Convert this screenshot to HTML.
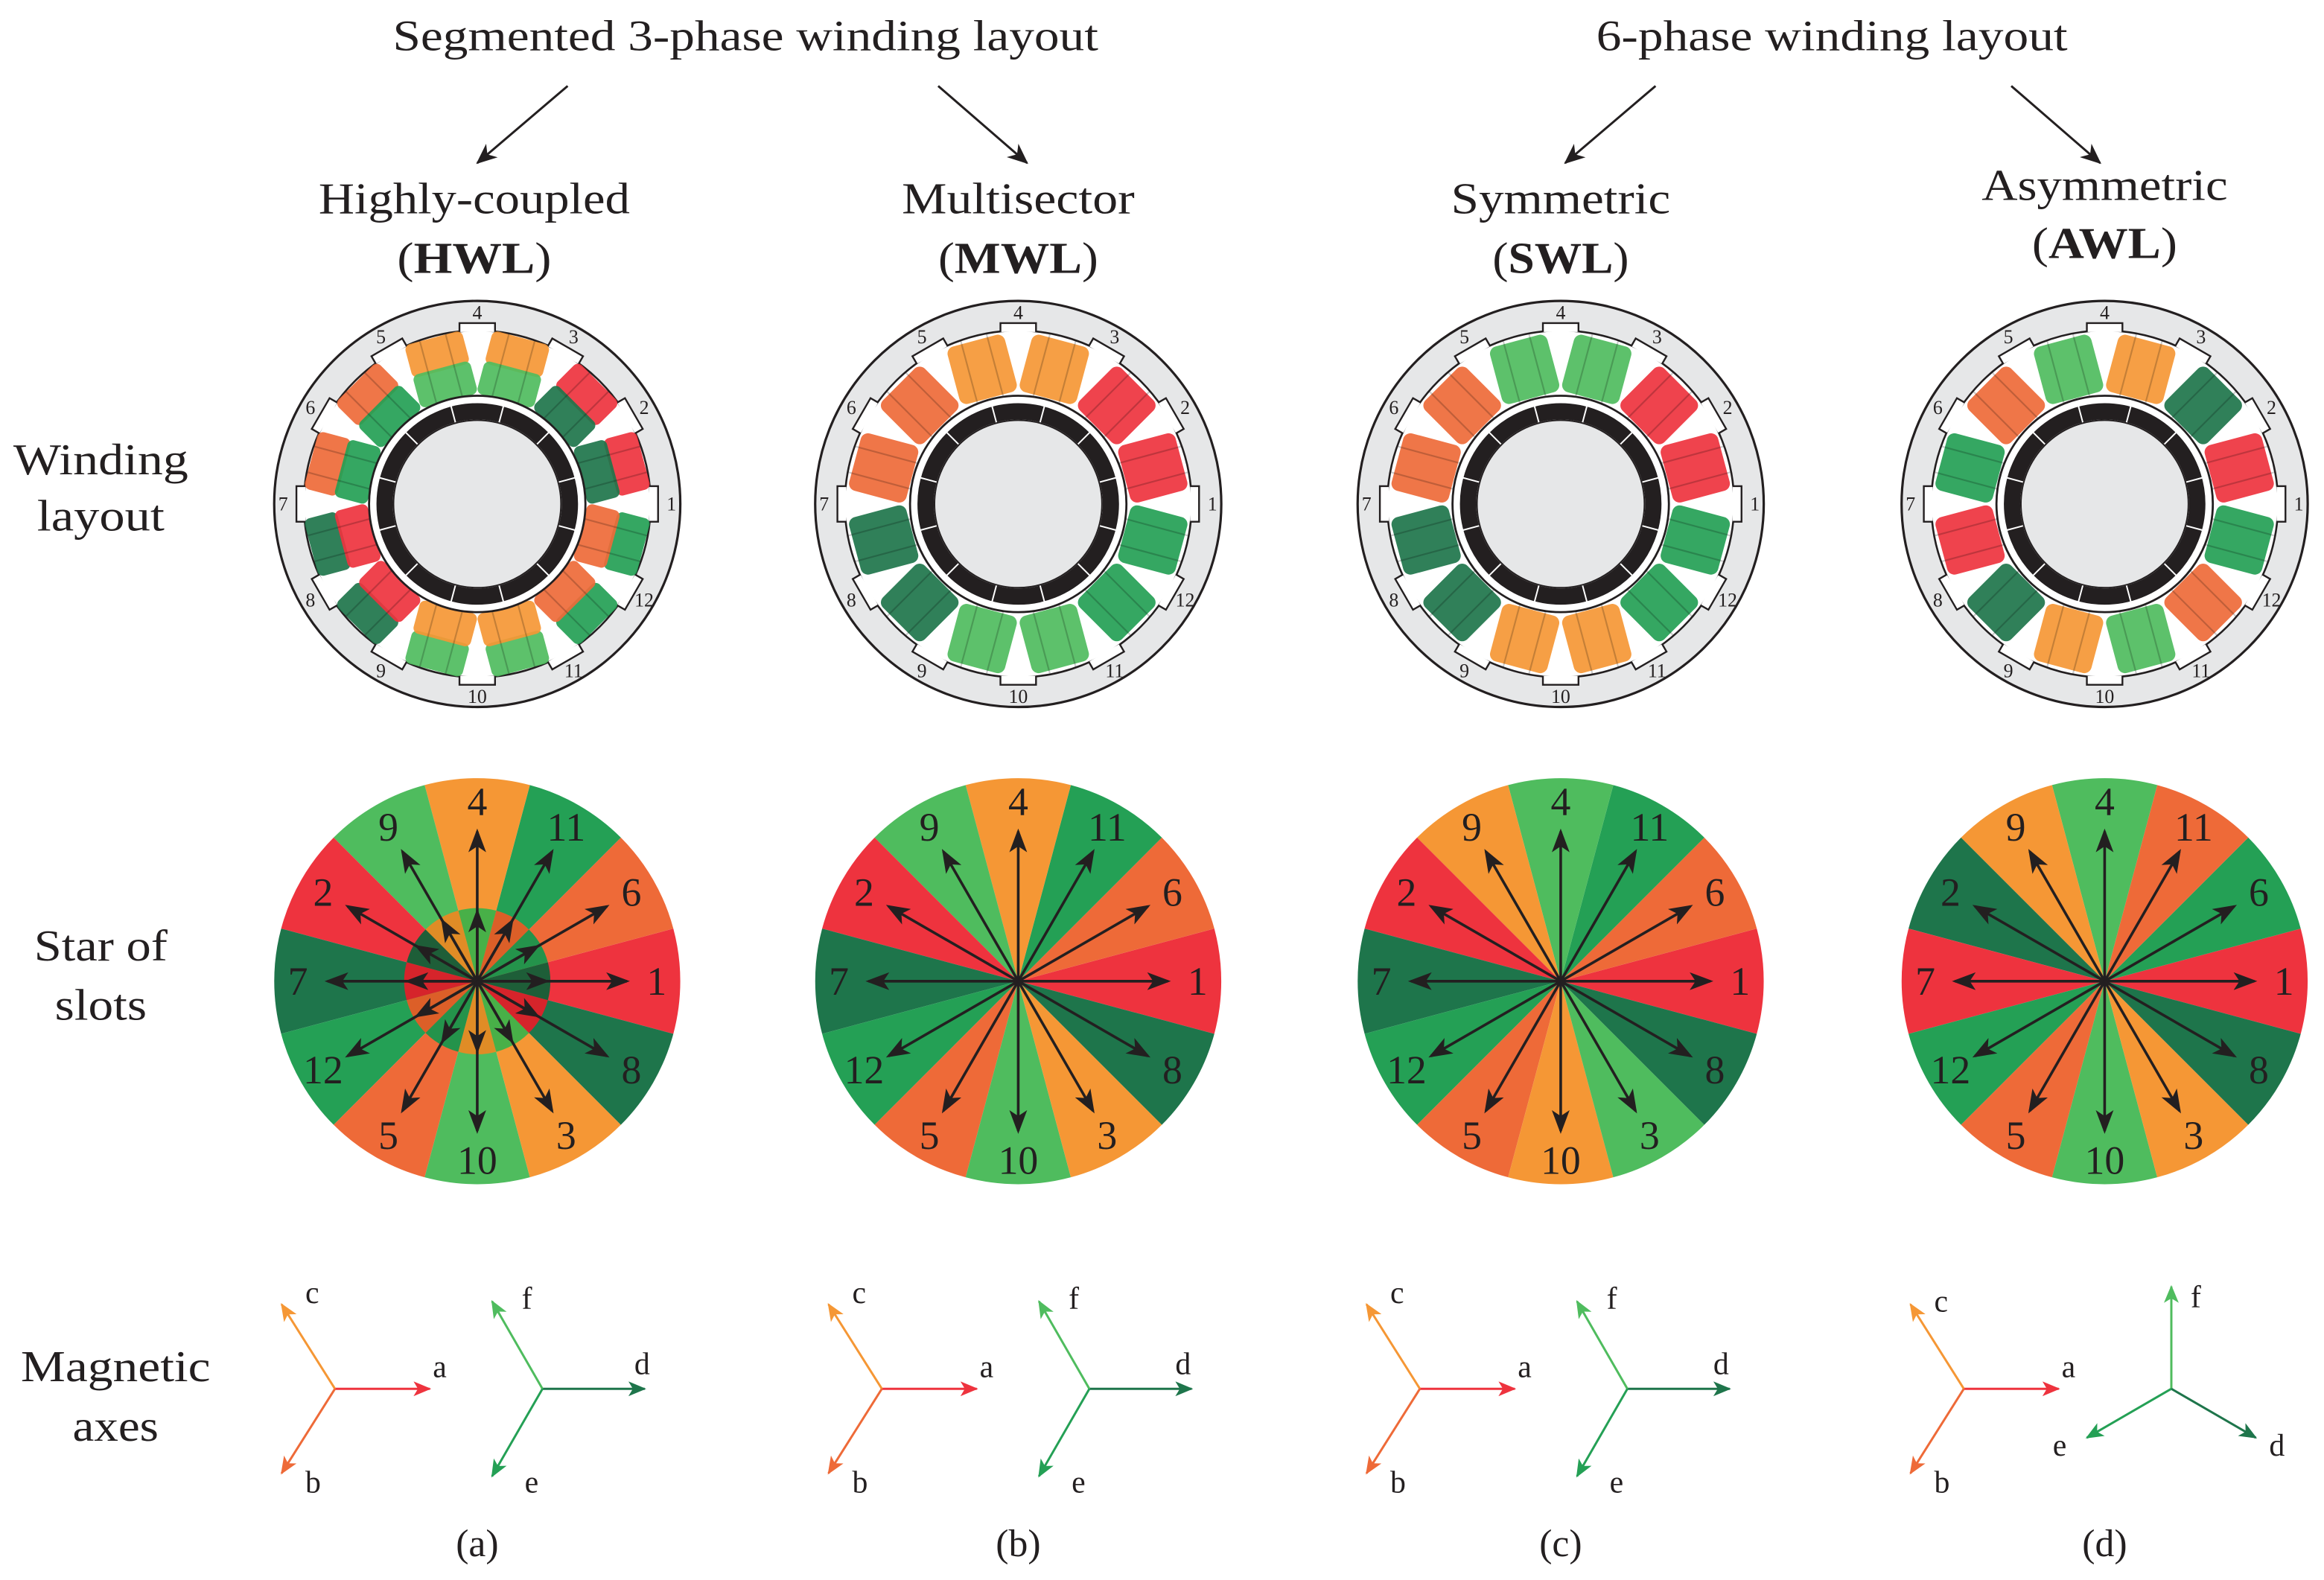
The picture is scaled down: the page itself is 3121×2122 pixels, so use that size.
<!DOCTYPE html>
<html><head><meta charset="utf-8"><style>
html,body{margin:0;padding:0;background:#fff}
svg{display:block}
text{font-family:"Liberation Serif",serif;fill:#231f20}
</style></head><body>
<svg width="3121" height="2122" viewBox="0 0 1568 1066" preserveAspectRatio="none" xmlns="http://www.w3.org/2000/svg">
<defs>
<marker id="mk" markerUnits="userSpaceOnUse" markerWidth="16" markerHeight="12" refX="14" refY="6" orient="auto"><path d="M0,0 L16,6 L0,12 L4,6 Z" fill="#231f20"/></marker>
<marker id="mr" markerUnits="userSpaceOnUse" markerWidth="12" markerHeight="10" refX="11" refY="5" orient="auto"><path d="M0,0 L12,5 L0,10 L3,5 Z" fill="#ee333e"/></marker>
<marker id="mo" markerUnits="userSpaceOnUse" markerWidth="12" markerHeight="10" refX="11" refY="5" orient="auto"><path d="M0,0 L12,5 L0,10 L3,5 Z" fill="#f59735"/></marker>
<marker id="mor" markerUnits="userSpaceOnUse" markerWidth="12" markerHeight="10" refX="11" refY="5" orient="auto"><path d="M0,0 L12,5 L0,10 L3,5 Z" fill="#ee6a38"/></marker>
<marker id="mlg" markerUnits="userSpaceOnUse" markerWidth="12" markerHeight="10" refX="11" refY="5" orient="auto"><path d="M0,0 L12,5 L0,10 L3,5 Z" fill="#4fbc5e"/></marker>
<marker id="mg" markerUnits="userSpaceOnUse" markerWidth="12" markerHeight="10" refX="11" refY="5" orient="auto"><path d="M0,0 L12,5 L0,10 L3,5 Z" fill="#24a055"/></marker>
<marker id="mdg" markerUnits="userSpaceOnUse" markerWidth="12" markerHeight="10" refX="11" refY="5" orient="auto"><path d="M0,0 L12,5 L0,10 L3,5 Z" fill="#1e754b"/></marker>
<marker id="mh" markerUnits="userSpaceOnUse" markerWidth="14" markerHeight="14" refX="13" refY="7" orient="auto"><path d="M0,1 L14,7 L0,13 L4,7 Z" fill="#231f20"/></marker>

<path id="s0" d="M0,0 L132.3,35.5 A137,137 0 0 0 132.3,-35.5 Z"/>
<path id="s1" d="M0,0 L132.3,-35.5 A137,137 0 0 0 96.9,-96.9 Z"/>
<path id="s2" d="M0,0 L96.9,-96.9 A137,137 0 0 0 35.5,-132.3 Z"/>
<path id="s3" d="M0,0 L35.5,-132.3 A137,137 0 0 0 -35.5,-132.3 Z"/>
<path id="s4" d="M0,0 L-35.5,-132.3 A137,137 0 0 0 -96.9,-96.9 Z"/>
<path id="s5" d="M0,0 L-96.9,-96.9 A137,137 0 0 0 -132.3,-35.5 Z"/>
<path id="s6" d="M0,0 L-132.3,-35.5 A137,137 0 0 0 -132.3,35.5 Z"/>
<path id="s7" d="M0,0 L-132.3,35.5 A137,137 0 0 0 -96.9,96.9 Z"/>
<path id="s8" d="M0,0 L-96.9,96.9 A137,137 0 0 0 -35.5,132.3 Z"/>
<path id="s9" d="M0,0 L-35.5,132.3 A137,137 0 0 0 35.5,132.3 Z"/>
<path id="s10" d="M0,0 L35.5,132.3 A137,137 0 0 0 96.9,96.9 Z"/>
<path id="s11" d="M0,0 L96.9,96.9 A137,137 0 0 0 132.3,35.5 Z"/>

<g id="arr" stroke="#231f20" stroke-width="1.8" marker-end="url(#mk)">
<line x1="0" y1="0" x2="101" y2="0"/>
<line x1="0" y1="0" x2="87.5" y2="-50.5"/>
<line x1="0" y1="0" x2="50.5" y2="-87.5"/>
<line x1="0" y1="0" x2="0" y2="-101"/>
<line x1="0" y1="0" x2="-50.5" y2="-87.5"/>
<line x1="0" y1="0" x2="-87.5" y2="-50.5"/>
<line x1="0" y1="0" x2="-101" y2="0"/>
<line x1="0" y1="0" x2="-87.5" y2="50.5"/>
<line x1="0" y1="0" x2="-50.5" y2="87.5"/>
<line x1="0" y1="0" x2="0" y2="101"/>
<line x1="0" y1="0" x2="50.5" y2="87.5"/>
<line x1="0" y1="0" x2="87.5" y2="50.5"/>
</g>
<g id="arrin" stroke="#231f20" stroke-width="1.8" marker-end="url(#mk)">
<line x1="0" y1="0" x2="47" y2="0"/>
<line x1="0" y1="0" x2="40.7" y2="-23.5"/>
<line x1="0" y1="0" x2="23.5" y2="-40.7"/>
<line x1="0" y1="0" x2="0" y2="-47"/>
<line x1="0" y1="0" x2="-23.5" y2="-40.7"/>
<line x1="0" y1="0" x2="-40.7" y2="-23.5"/>
<line x1="0" y1="0" x2="-47" y2="0"/>
<line x1="0" y1="0" x2="-40.7" y2="23.5"/>
<line x1="0" y1="0" x2="-23.5" y2="40.7"/>
<line x1="0" y1="0" x2="0" y2="47"/>
<line x1="0" y1="0" x2="23.5" y2="40.7"/>
<line x1="0" y1="0" x2="40.7" y2="23.5"/>
</g>

<rect id="cf" x="74" y="-20" width="40" height="40" rx="5" opacity="0.92"/>
<rect id="co" x="93" y="-20" width="23" height="40" rx="4" opacity="0.92"/>
<rect id="ci" x="72" y="-20" width="23" height="40" rx="4" opacity="0.92"/>

<g id="stbase">
<circle r="137" fill="#e6e7e8" stroke="#231f20" stroke-width="1.6"/>
<circle r="117" fill="#fff" stroke="#231f20" stroke-width="1.3"/>
<g fill="#fff" stroke="#231f20" stroke-width="1.2">
<path d="M116,-12 L122,-12 L122,12 L116,12" transform="rotate(0)"/>
<path d="M116,-12 L122,-12 L122,12 L116,12" transform="rotate(-30)"/>
<path d="M116,-12 L122,-12 L122,12 L116,12" transform="rotate(-60)"/>
<path d="M116,-12 L122,-12 L122,12 L116,12" transform="rotate(-90)"/>
<path d="M116,-12 L122,-12 L122,12 L116,12" transform="rotate(-120)"/>
<path d="M116,-12 L122,-12 L122,12 L116,12" transform="rotate(-150)"/>
<path d="M116,-12 L122,-12 L122,12 L116,12" transform="rotate(180)"/>
<path d="M116,-12 L122,-12 L122,12 L116,12" transform="rotate(150)"/>
<path d="M116,-12 L122,-12 L122,12 L116,12" transform="rotate(120)"/>
<path d="M116,-12 L122,-12 L122,12 L116,12" transform="rotate(90)"/>
<path d="M116,-12 L122,-12 L122,12 L116,12" transform="rotate(60)"/>
<path d="M116,-12 L122,-12 L122,12 L116,12" transform="rotate(30)"/>
</g>
</g>
<g id="sttop">
<g stroke="rgba(0,0,0,0.2)" stroke-width="1.1">
<g transform="rotate(-15)"><line x1="72" y1="-9" x2="116" y2="-9"/><line x1="72" y1="9" x2="116" y2="9"/></g>
<g transform="rotate(-45)"><line x1="72" y1="-9" x2="116" y2="-9"/><line x1="72" y1="9" x2="116" y2="9"/></g>
<g transform="rotate(-75)"><line x1="72" y1="-9" x2="116" y2="-9"/><line x1="72" y1="9" x2="116" y2="9"/></g>
<g transform="rotate(-105)"><line x1="72" y1="-9" x2="116" y2="-9"/><line x1="72" y1="9" x2="116" y2="9"/></g>
<g transform="rotate(-135)"><line x1="72" y1="-9" x2="116" y2="-9"/><line x1="72" y1="9" x2="116" y2="9"/></g>
<g transform="rotate(-165)"><line x1="72" y1="-9" x2="116" y2="-9"/><line x1="72" y1="9" x2="116" y2="9"/></g>
<g transform="rotate(165)"><line x1="72" y1="-9" x2="116" y2="-9"/><line x1="72" y1="9" x2="116" y2="9"/></g>
<g transform="rotate(135)"><line x1="72" y1="-9" x2="116" y2="-9"/><line x1="72" y1="9" x2="116" y2="9"/></g>
<g transform="rotate(105)"><line x1="72" y1="-9" x2="116" y2="-9"/><line x1="72" y1="9" x2="116" y2="9"/></g>
<g transform="rotate(75)"><line x1="72" y1="-9" x2="116" y2="-9"/><line x1="72" y1="9" x2="116" y2="9"/></g>
<g transform="rotate(45)"><line x1="72" y1="-9" x2="116" y2="-9"/><line x1="72" y1="9" x2="116" y2="9"/></g>
<g transform="rotate(15)"><line x1="72" y1="-9" x2="116" y2="-9"/><line x1="72" y1="9" x2="116" y2="9"/></g>
</g>
<circle r="73" fill="#fff" stroke="#231f20" stroke-width="1.4"/>
<circle r="62.5" fill="none" stroke="#231f20" stroke-width="11"/>
<g stroke="#fff" stroke-width="1">
<line x1="57" y1="0" x2="69" y2="0" transform="rotate(-15)"/>
<line x1="57" y1="0" x2="69" y2="0" transform="rotate(-45)"/>
<line x1="57" y1="0" x2="69" y2="0" transform="rotate(-75)"/>
<line x1="57" y1="0" x2="69" y2="0" transform="rotate(-105)"/>
<line x1="57" y1="0" x2="69" y2="0" transform="rotate(-135)"/>
<line x1="57" y1="0" x2="69" y2="0" transform="rotate(-165)"/>
<line x1="57" y1="0" x2="69" y2="0" transform="rotate(165)"/>
<line x1="57" y1="0" x2="69" y2="0" transform="rotate(135)"/>
<line x1="57" y1="0" x2="69" y2="0" transform="rotate(105)"/>
<line x1="57" y1="0" x2="69" y2="0" transform="rotate(75)"/>
<line x1="57" y1="0" x2="69" y2="0" transform="rotate(45)"/>
<line x1="57" y1="0" x2="69" y2="0" transform="rotate(15)"/>
</g>
<circle r="56.5" fill="#e6e7e8" stroke="#231f20" stroke-width="1"/>
</g>
</defs>

<!-- Headers -->
<text x="503" y="34" font-size="29" text-anchor="middle" textLength="476" lengthAdjust="spacingAndGlyphs">Segmented 3-phase winding layout</text>
<text x="1236" y="34" font-size="29" text-anchor="middle" textLength="318" lengthAdjust="spacingAndGlyphs">6-phase winding layout</text>
<g stroke="#231f20" stroke-width="1.5" marker-end="url(#mh)">
<line x1="383" y1="58" x2="322" y2="110"/>
<line x1="633" y1="58" x2="693" y2="110"/>
<line x1="1117" y1="58" x2="1056" y2="110"/>
<line x1="1357" y1="58" x2="1417" y2="110"/>
</g>
<g font-size="30" text-anchor="middle">
<text x="320" y="144" textLength="210" lengthAdjust="spacingAndGlyphs">Highly-coupled</text>
<text x="320" y="184" textLength="104" lengthAdjust="spacingAndGlyphs">(<tspan font-weight="bold">HWL</tspan>)</text>
<text x="687" y="144" textLength="157" lengthAdjust="spacingAndGlyphs">Multisector</text>
<text x="687" y="184" textLength="108" lengthAdjust="spacingAndGlyphs">(<tspan font-weight="bold">MWL</tspan>)</text>
<text x="1053" y="144" textLength="148" lengthAdjust="spacingAndGlyphs">Symmetric</text>
<text x="1053" y="184" textLength="92" lengthAdjust="spacingAndGlyphs">(<tspan font-weight="bold">SWL</tspan>)</text>
<text x="1420" y="135" textLength="166" lengthAdjust="spacingAndGlyphs">Asymmetric</text>
<text x="1420" y="174" textLength="98" lengthAdjust="spacingAndGlyphs">(<tspan font-weight="bold">AWL</tspan>)</text>
<text x="68" y="320" textLength="118" lengthAdjust="spacingAndGlyphs">Winding</text>
<text x="68" y="358" textLength="86" lengthAdjust="spacingAndGlyphs">layout</text>
<text x="68" y="648" textLength="90" lengthAdjust="spacingAndGlyphs">Star of</text>
<text x="68" y="688" textLength="62" lengthAdjust="spacingAndGlyphs">slots</text>
<text x="78" y="932" textLength="128" lengthAdjust="spacingAndGlyphs">Magnetic</text>
<text x="78" y="972" textLength="58" lengthAdjust="spacingAndGlyphs">axes</text>
</g>
<g font-size="26" text-anchor="middle">
<text x="322" y="1050">(a)</text>
<text x="687" y="1050">(b)</text>
<text x="1053" y="1050">(c)</text>
<text x="1420" y="1050">(d)</text>
</g>

<!-- Stators -->
<g transform="translate(322,340)">
<use href="#stbase"/>
<use href="#co" transform="rotate(-15)" fill="#ee333e"/><use href="#ci" transform="rotate(-15)" fill="#1e754b"/>
<use href="#co" transform="rotate(-45)" fill="#ee333e"/><use href="#ci" transform="rotate(-45)" fill="#1e754b"/>
<use href="#co" transform="rotate(-75)" fill="#f59735"/><use href="#ci" transform="rotate(-75)" fill="#4fbc5e"/>
<use href="#co" transform="rotate(-105)" fill="#f59735"/><use href="#ci" transform="rotate(-105)" fill="#4fbc5e"/>
<use href="#co" transform="rotate(-135)" fill="#ee6a38"/><use href="#ci" transform="rotate(-135)" fill="#24a055"/>
<use href="#co" transform="rotate(-165)" fill="#ee6a38"/><use href="#ci" transform="rotate(-165)" fill="#24a055"/>
<use href="#co" transform="rotate(165)" fill="#1e754b"/><use href="#ci" transform="rotate(165)" fill="#ee333e"/>
<use href="#co" transform="rotate(135)" fill="#1e754b"/><use href="#ci" transform="rotate(135)" fill="#ee333e"/>
<use href="#co" transform="rotate(105)" fill="#4fbc5e"/><use href="#ci" transform="rotate(105)" fill="#f59735"/>
<use href="#co" transform="rotate(75)" fill="#4fbc5e"/><use href="#ci" transform="rotate(75)" fill="#f59735"/>
<use href="#co" transform="rotate(45)" fill="#24a055"/><use href="#ci" transform="rotate(45)" fill="#ee6a38"/>
<use href="#co" transform="rotate(15)" fill="#24a055"/><use href="#ci" transform="rotate(15)" fill="#ee6a38"/>
<use href="#sttop"/>
<g font-size="13" text-anchor="middle" dominant-baseline="central">
<text x="131" y="0">1</text><text x="112.6" y="-65">2</text><text x="65" y="-112.6">3</text><text x="0" y="-129">4</text>
<text x="-65" y="-112.6">5</text><text x="-112.6" y="-65">6</text><text x="-131" y="0">7</text><text x="-112.6" y="65">8</text>
<text x="-65" y="112.6">9</text><text x="0" y="130">10</text><text x="65" y="112.6">11</text><text x="112.6" y="65">12</text>
</g>
</g>

<g transform="translate(687,340)">
<use href="#stbase"/>
<use href="#cf" transform="rotate(-15)" fill="#ee333e"/>
<use href="#cf" transform="rotate(-45)" fill="#ee333e"/>
<use href="#cf" transform="rotate(-75)" fill="#f59735"/>
<use href="#cf" transform="rotate(-105)" fill="#f59735"/>
<use href="#cf" transform="rotate(-135)" fill="#ee6a38"/>
<use href="#cf" transform="rotate(-165)" fill="#ee6a38"/>
<use href="#cf" transform="rotate(165)" fill="#1e754b"/>
<use href="#cf" transform="rotate(135)" fill="#1e754b"/>
<use href="#cf" transform="rotate(105)" fill="#4fbc5e"/>
<use href="#cf" transform="rotate(75)" fill="#4fbc5e"/>
<use href="#cf" transform="rotate(45)" fill="#24a055"/>
<use href="#cf" transform="rotate(15)" fill="#24a055"/>
<use href="#sttop"/>
<g font-size="13" text-anchor="middle" dominant-baseline="central">
<text x="131" y="0">1</text><text x="112.6" y="-65">2</text><text x="65" y="-112.6">3</text><text x="0" y="-129">4</text>
<text x="-65" y="-112.6">5</text><text x="-112.6" y="-65">6</text><text x="-131" y="0">7</text><text x="-112.6" y="65">8</text>
<text x="-65" y="112.6">9</text><text x="0" y="130">10</text><text x="65" y="112.6">11</text><text x="112.6" y="65">12</text>
</g>
</g>

<g transform="translate(1053,340)">
<use href="#stbase"/>
<use href="#cf" transform="rotate(-15)" fill="#ee333e"/>
<use href="#cf" transform="rotate(-45)" fill="#ee333e"/>
<use href="#cf" transform="rotate(-75)" fill="#4fbc5e"/>
<use href="#cf" transform="rotate(-105)" fill="#4fbc5e"/>
<use href="#cf" transform="rotate(-135)" fill="#ee6a38"/>
<use href="#cf" transform="rotate(-165)" fill="#ee6a38"/>
<use href="#cf" transform="rotate(165)" fill="#1e754b"/>
<use href="#cf" transform="rotate(135)" fill="#1e754b"/>
<use href="#cf" transform="rotate(105)" fill="#f59735"/>
<use href="#cf" transform="rotate(75)" fill="#f59735"/>
<use href="#cf" transform="rotate(45)" fill="#24a055"/>
<use href="#cf" transform="rotate(15)" fill="#24a055"/>
<use href="#sttop"/>
<g font-size="13" text-anchor="middle" dominant-baseline="central">
<text x="131" y="0">1</text><text x="112.6" y="-65">2</text><text x="65" y="-112.6">3</text><text x="0" y="-129">4</text>
<text x="-65" y="-112.6">5</text><text x="-112.6" y="-65">6</text><text x="-131" y="0">7</text><text x="-112.6" y="65">8</text>
<text x="-65" y="112.6">9</text><text x="0" y="130">10</text><text x="65" y="112.6">11</text><text x="112.6" y="65">12</text>
</g>
</g>

<g transform="translate(1420,340)">
<use href="#stbase"/>
<use href="#cf" transform="rotate(-15)" fill="#ee333e"/>
<use href="#cf" transform="rotate(-45)" fill="#1e754b"/>
<use href="#cf" transform="rotate(-75)" fill="#f59735"/>
<use href="#cf" transform="rotate(-105)" fill="#4fbc5e"/>
<use href="#cf" transform="rotate(-135)" fill="#ee6a38"/>
<use href="#cf" transform="rotate(-165)" fill="#24a055"/>
<use href="#cf" transform="rotate(165)" fill="#ee333e"/>
<use href="#cf" transform="rotate(135)" fill="#1e754b"/>
<use href="#cf" transform="rotate(105)" fill="#f59735"/>
<use href="#cf" transform="rotate(75)" fill="#4fbc5e"/>
<use href="#cf" transform="rotate(45)" fill="#ee6a38"/>
<use href="#cf" transform="rotate(15)" fill="#24a055"/>
<use href="#sttop"/>
<g font-size="13" text-anchor="middle" dominant-baseline="central">
<text x="131" y="0">1</text><text x="112.6" y="-65">2</text><text x="65" y="-112.6">3</text><text x="0" y="-129">4</text>
<text x="-65" y="-112.6">5</text><text x="-112.6" y="-65">6</text><text x="-131" y="0">7</text><text x="-112.6" y="65">8</text>
<text x="-65" y="112.6">9</text><text x="0" y="130">10</text><text x="65" y="112.6">11</text><text x="112.6" y="65">12</text>
</g>
</g>

<!-- Stars -->
<g transform="translate(322,662)">
<use href="#s0" fill="#ee333e"/><use href="#s1" fill="#ee6a38"/><use href="#s2" fill="#24a055"/><use href="#s3" fill="#f59735"/>
<use href="#s4" fill="#4fbc5e"/><use href="#s5" fill="#ee333e"/><use href="#s6" fill="#1e754b"/><use href="#s7" fill="#24a055"/>
<use href="#s8" fill="#ee6a38"/><use href="#s9" fill="#4fbc5e"/><use href="#s10" fill="#f59735"/><use href="#s11" fill="#1e754b"/>
<g transform="scale(0.36)">
<use href="#s0" fill="#1e5e38"/><use href="#s1" fill="#24934b"/><use href="#s2" fill="#dc5f28"/><use href="#s3" fill="#48b048"/>
<use href="#s4" fill="#e08c26"/><use href="#s5" fill="#1e5e38"/><use href="#s6" fill="#d6242b"/><use href="#s7" fill="#dc5f28"/>
<use href="#s8" fill="#24934b"/><use href="#s9" fill="#e08c26"/><use href="#s10" fill="#48b048"/><use href="#s11" fill="#d6242b"/>
</g>
<use href="#arr"/><use href="#arrin"/>
<g font-size="27" text-anchor="middle" dominant-baseline="central">
<text x="121" y="0">1</text><text x="104" y="-60">6</text><text x="60" y="-104">11</text><text x="0" y="-121">4</text>
<text x="-60" y="-104">9</text><text x="-104" y="-60">2</text><text x="-121" y="0">7</text><text x="-104" y="60">12</text>
<text x="-60" y="104">5</text><text x="0" y="121">10</text><text x="60" y="104">3</text><text x="104" y="60">8</text>
</g>
</g>

<g transform="translate(687,662)">
<use href="#s0" fill="#ee333e"/><use href="#s1" fill="#ee6a38"/><use href="#s2" fill="#24a055"/><use href="#s3" fill="#f59735"/>
<use href="#s4" fill="#4fbc5e"/><use href="#s5" fill="#ee333e"/><use href="#s6" fill="#1e754b"/><use href="#s7" fill="#24a055"/>
<use href="#s8" fill="#ee6a38"/><use href="#s9" fill="#4fbc5e"/><use href="#s10" fill="#f59735"/><use href="#s11" fill="#1e754b"/>
<use href="#arr"/>
<g font-size="27" text-anchor="middle" dominant-baseline="central">
<text x="121" y="0">1</text><text x="104" y="-60">6</text><text x="60" y="-104">11</text><text x="0" y="-121">4</text>
<text x="-60" y="-104">9</text><text x="-104" y="-60">2</text><text x="-121" y="0">7</text><text x="-104" y="60">12</text>
<text x="-60" y="104">5</text><text x="0" y="121">10</text><text x="60" y="104">3</text><text x="104" y="60">8</text>
</g>
</g>

<g transform="translate(1053,662)">
<use href="#s0" fill="#ee333e"/><use href="#s1" fill="#ee6a38"/><use href="#s2" fill="#24a055"/><use href="#s3" fill="#4fbc5e"/>
<use href="#s4" fill="#f59735"/><use href="#s5" fill="#ee333e"/><use href="#s6" fill="#1e754b"/><use href="#s7" fill="#24a055"/>
<use href="#s8" fill="#ee6a38"/><use href="#s9" fill="#f59735"/><use href="#s10" fill="#4fbc5e"/><use href="#s11" fill="#1e754b"/>
<use href="#arr"/>
<g font-size="27" text-anchor="middle" dominant-baseline="central">
<text x="121" y="0">1</text><text x="104" y="-60">6</text><text x="60" y="-104">11</text><text x="0" y="-121">4</text>
<text x="-60" y="-104">9</text><text x="-104" y="-60">2</text><text x="-121" y="0">7</text><text x="-104" y="60">12</text>
<text x="-60" y="104">5</text><text x="0" y="121">10</text><text x="60" y="104">3</text><text x="104" y="60">8</text>
</g>
</g>

<g transform="translate(1420,662)">
<use href="#s0" fill="#ee333e"/><use href="#s1" fill="#24a055"/><use href="#s2" fill="#ee6a38"/><use href="#s3" fill="#4fbc5e"/>
<use href="#s4" fill="#f59735"/><use href="#s5" fill="#1e754b"/><use href="#s6" fill="#ee333e"/><use href="#s7" fill="#24a055"/>
<use href="#s8" fill="#ee6a38"/><use href="#s9" fill="#4fbc5e"/><use href="#s10" fill="#f59735"/><use href="#s11" fill="#1e754b"/>
<use href="#arr"/>
<g font-size="27" text-anchor="middle" dominant-baseline="central">
<text x="121" y="0">1</text><text x="104" y="-60">6</text><text x="60" y="-104">11</text><text x="0" y="-121">4</text>
<text x="-60" y="-104">9</text><text x="-104" y="-60">2</text><text x="-121" y="0">7</text><text x="-104" y="60">12</text>
<text x="-60" y="104">5</text><text x="0" y="121">10</text><text x="60" y="104">3</text><text x="104" y="60">8</text>
</g>
</g>

<!-- Magnetic axes -->
<g stroke-width="1.5" font-size="21">
<g transform="translate(226,937)">
<line x1="0" y1="0" x2="64" y2="0" stroke="#ee333e" marker-end="url(#mr)"/>
<line x1="0" y1="0" x2="-36" y2="-57" stroke="#f59735" marker-end="url(#mo)"/>
<line x1="0" y1="0" x2="-36" y2="57" stroke="#ee6a38" marker-end="url(#mor)"/>
<text x="66" y="-8" stroke="none">a</text><text x="-20" y="-58" stroke="none">c</text><text x="-20" y="70" stroke="none">b</text>
</g>
<g transform="translate(366,937)">
<line x1="0" y1="0" x2="69" y2="0" stroke="#1e754b" marker-end="url(#mdg)"/>
<line x1="0" y1="0" x2="-34" y2="-59" stroke="#4fbc5e" marker-end="url(#mlg)"/>
<line x1="0" y1="0" x2="-34" y2="59" stroke="#24a055" marker-end="url(#mg)"/>
<text x="62" y="-10" stroke="none">d</text><text x="-14" y="-54" stroke="none">f</text><text x="-12" y="70" stroke="none">e</text>
</g>
<g transform="translate(595,937)">
<line x1="0" y1="0" x2="64" y2="0" stroke="#ee333e" marker-end="url(#mr)"/>
<line x1="0" y1="0" x2="-36" y2="-57" stroke="#f59735" marker-end="url(#mo)"/>
<line x1="0" y1="0" x2="-36" y2="57" stroke="#ee6a38" marker-end="url(#mor)"/>
<text x="66" y="-8" stroke="none">a</text><text x="-20" y="-58" stroke="none">c</text><text x="-20" y="70" stroke="none">b</text>
</g>
<g transform="translate(735,937)">
<line x1="0" y1="0" x2="69" y2="0" stroke="#1e754b" marker-end="url(#mdg)"/>
<line x1="0" y1="0" x2="-34" y2="-59" stroke="#4fbc5e" marker-end="url(#mlg)"/>
<line x1="0" y1="0" x2="-34" y2="59" stroke="#24a055" marker-end="url(#mg)"/>
<text x="58" y="-10" stroke="none">d</text><text x="-14" y="-54" stroke="none">f</text><text x="-12" y="70" stroke="none">e</text>
</g>
<g transform="translate(958,937)">
<line x1="0" y1="0" x2="64" y2="0" stroke="#ee333e" marker-end="url(#mr)"/>
<line x1="0" y1="0" x2="-36" y2="-57" stroke="#f59735" marker-end="url(#mo)"/>
<line x1="0" y1="0" x2="-36" y2="57" stroke="#ee6a38" marker-end="url(#mor)"/>
<text x="66" y="-8" stroke="none">a</text><text x="-20" y="-58" stroke="none">c</text><text x="-20" y="70" stroke="none">b</text>
</g>
<g transform="translate(1098,937)">
<line x1="0" y1="0" x2="69" y2="0" stroke="#1e754b" marker-end="url(#mdg)"/>
<line x1="0" y1="0" x2="-34" y2="-59" stroke="#4fbc5e" marker-end="url(#mlg)"/>
<line x1="0" y1="0" x2="-34" y2="59" stroke="#24a055" marker-end="url(#mg)"/>
<text x="58" y="-10" stroke="none">d</text><text x="-14" y="-54" stroke="none">f</text><text x="-12" y="70" stroke="none">e</text>
</g>
<g transform="translate(1325,937)">
<line x1="0" y1="0" x2="64" y2="0" stroke="#ee333e" marker-end="url(#mr)"/>
<line x1="0" y1="0" x2="-36" y2="-57" stroke="#f59735" marker-end="url(#mo)"/>
<line x1="0" y1="0" x2="-36" y2="57" stroke="#ee6a38" marker-end="url(#mor)"/>
<text x="66" y="-8" stroke="none">a</text><text x="-20" y="-52" stroke="none">c</text><text x="-20" y="70" stroke="none">b</text>
</g>
<g transform="translate(1465,937)">
<line x1="0" y1="0" x2="0" y2="-69" stroke="#4fbc5e" marker-end="url(#mlg)"/>
<line x1="0" y1="0" x2="57" y2="33" stroke="#1e754b" marker-end="url(#mdg)"/>
<line x1="0" y1="0" x2="-57" y2="33" stroke="#24a055" marker-end="url(#mg)"/>
<text x="13" y="-55" stroke="none">f</text><text x="66" y="45" stroke="none">d</text><text x="-80" y="45" stroke="none">e</text>
</g>
</g>
</svg>
</body></html>
